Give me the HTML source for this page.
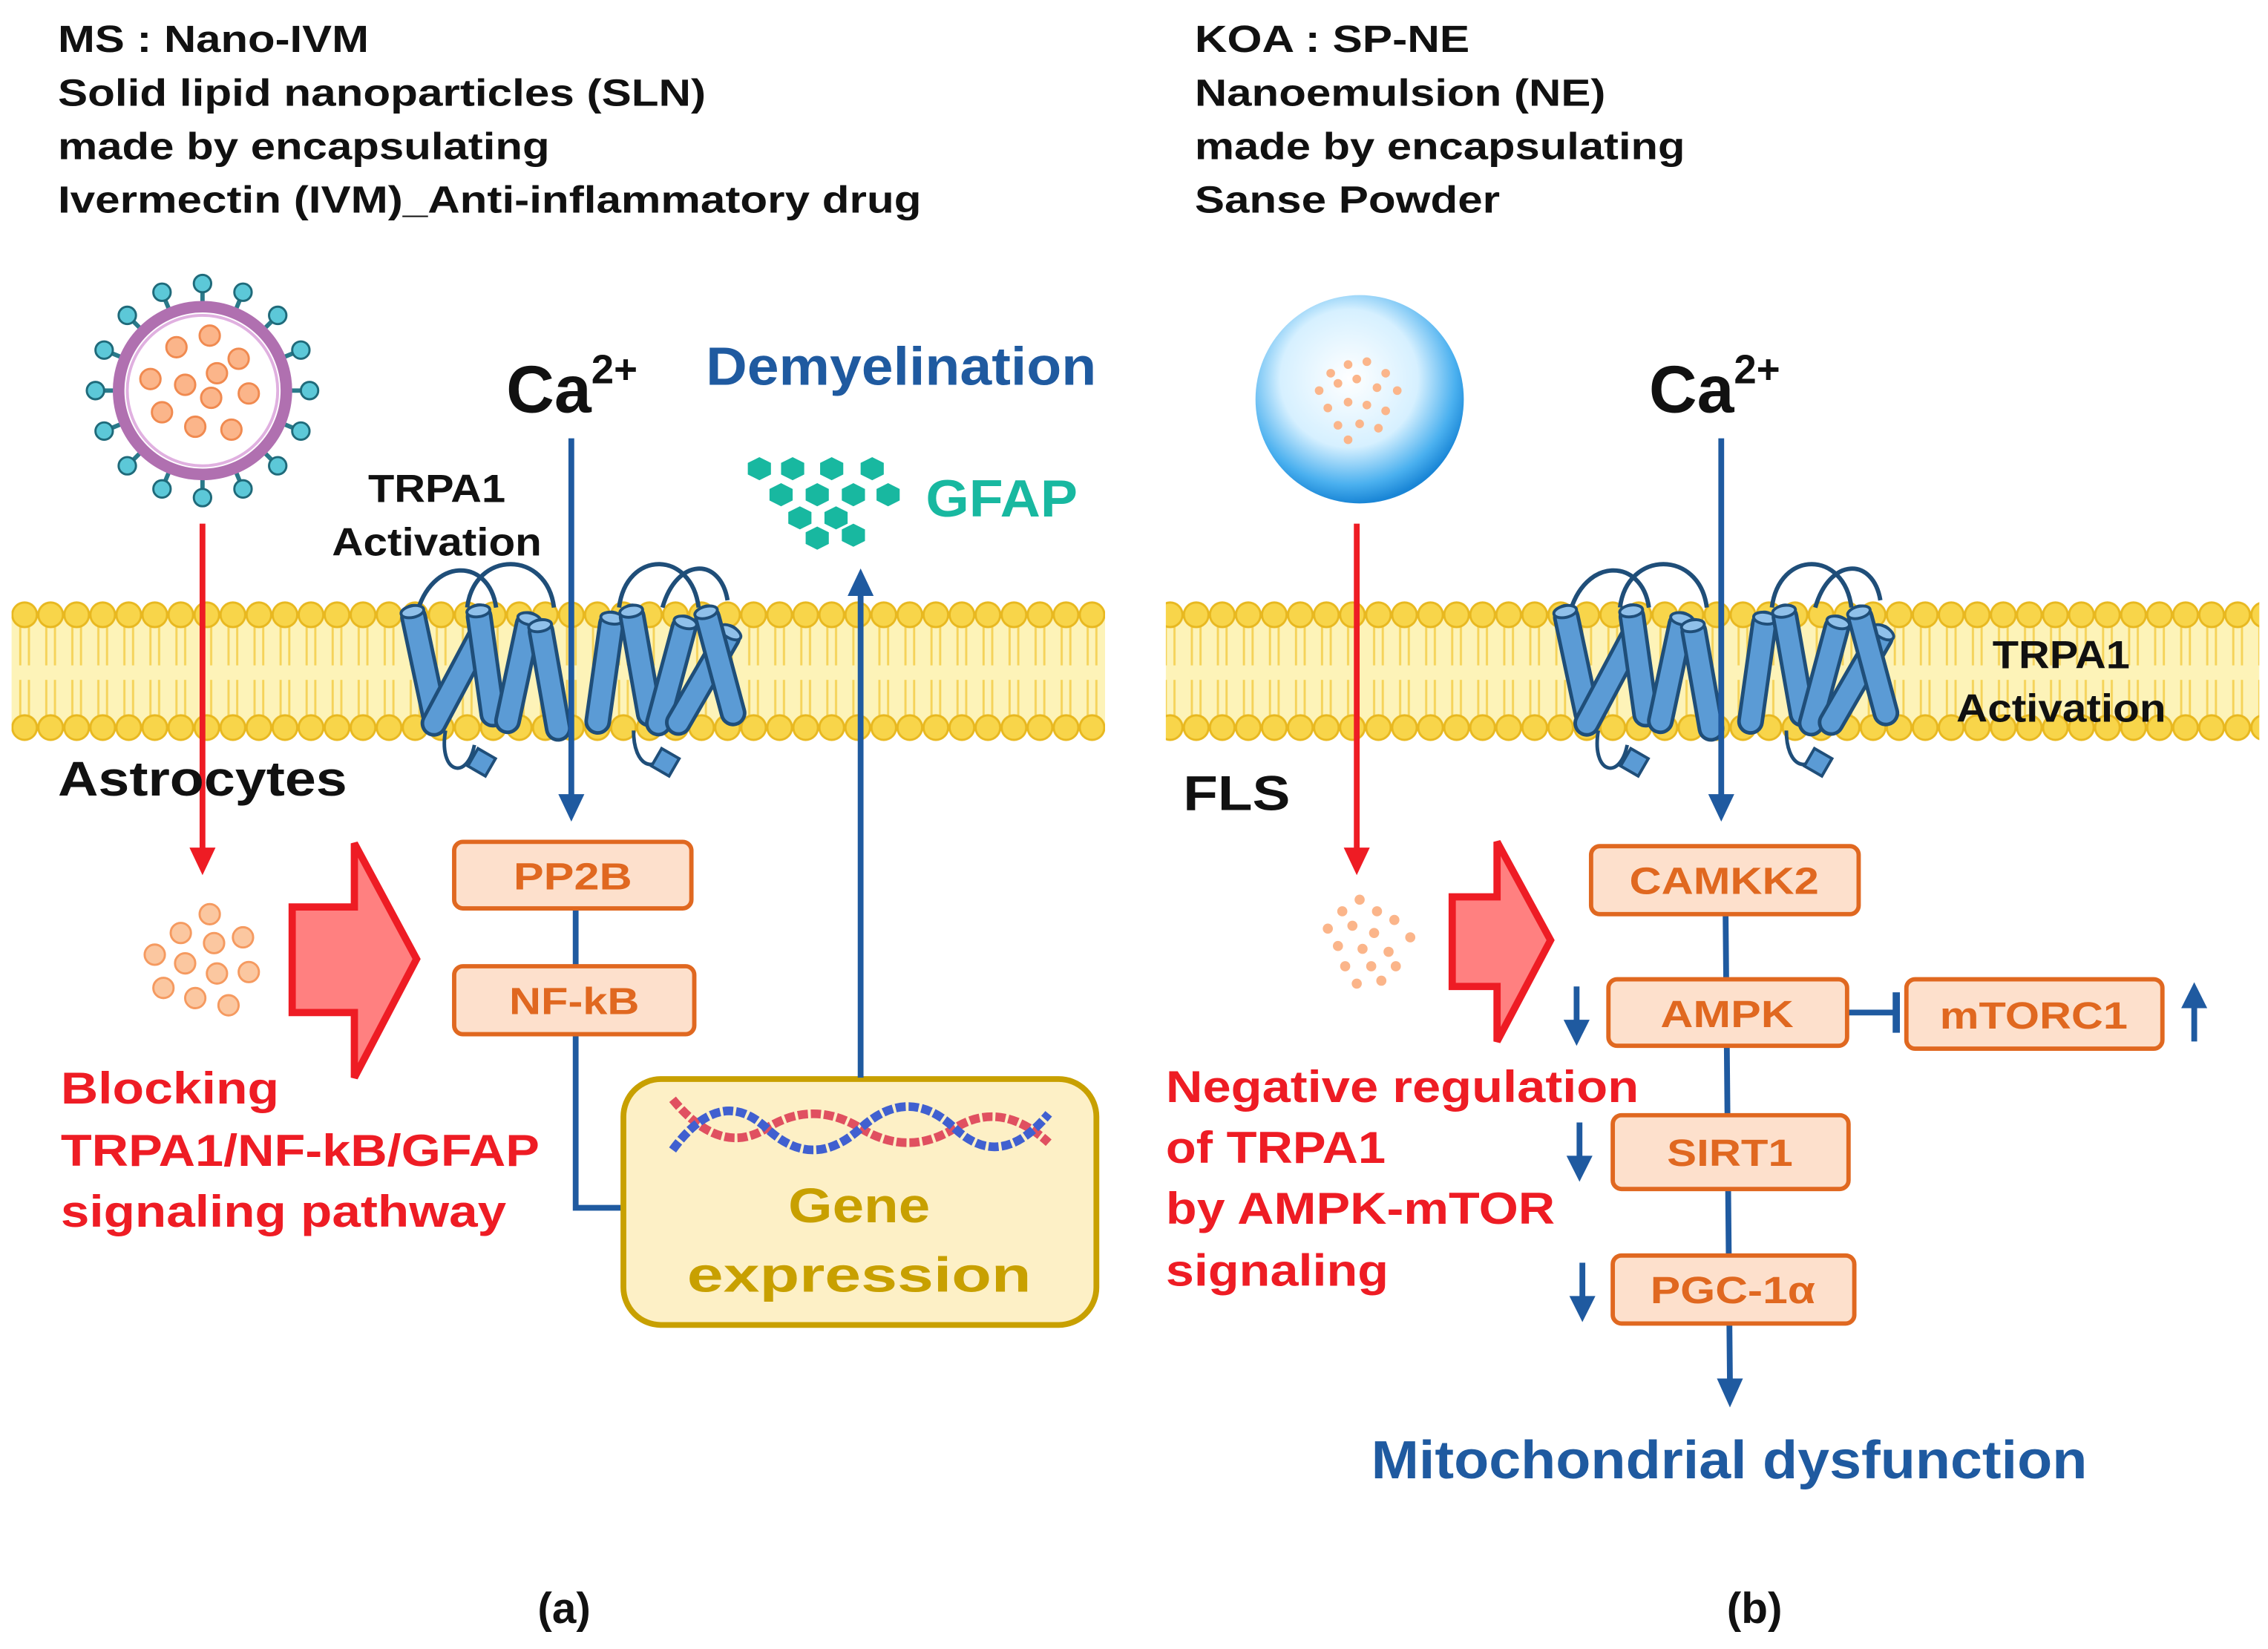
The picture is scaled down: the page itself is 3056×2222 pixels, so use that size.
<!DOCTYPE html>
<html><head><meta charset="utf-8"><style>
html,body{margin:0;padding:0;background:#fff}
svg{display:block}
text{font-family:"Liberation Sans",sans-serif;font-weight:bold}
</style></head><body>
<svg width="3056" height="2222" viewBox="0 0 1568 1140" xmlns="http://www.w3.org/2000/svg">
<defs>
<pattern id="lip" x="8" y="414" width="18" height="100" patternUnits="userSpaceOnUse">
<rect x="0" y="11" width="18" height="78" fill="#fdf3b8"/>
<line x1="6" y1="16" x2="6" y2="46" stroke="#f5d35a" stroke-width="1.5"/>
<line x1="12" y1="16" x2="12" y2="46" stroke="#f5d35a" stroke-width="1.5"/>
<line x1="6" y1="56" x2="6" y2="84" stroke="#f5d35a" stroke-width="1.5"/>
<line x1="12" y1="56" x2="12" y2="84" stroke="#f5d35a" stroke-width="1.5"/>
<circle cx="9" cy="11" r="8.5" fill="#f8d54a" stroke="#e8b820" stroke-width="1.5"/>
<circle cx="9" cy="89" r="8.5" fill="#f8d54a" stroke="#e8b820" stroke-width="1.5"/>
</pattern>
<radialGradient id="sph" cx="45%" cy="40%" r="60%">
<stop offset="0" stop-color="#ffffff"/><stop offset="0.55" stop-color="#d6f0ff"/><stop offset="0.85" stop-color="#4ab0ef"/><stop offset="1" stop-color="#1a86d6"/>
</radialGradient>
<g id="cyl">
<rect x="-8" y="-42" width="16" height="84" rx="8" fill="#5b9bd5" stroke="#1f4e79" stroke-width="2.5"/>
<ellipse cx="0" cy="-38" rx="8" ry="4" fill="#8fc0ea" stroke="#1f4e79" stroke-width="2"/>
</g>
<g id="prot">
<path d="M-110,-30 C-100,-70 -60,-70 -55,-35 M-75,-35 C-70,-75 -20,-75 -15,-35" fill="none" stroke="#1f4e79" stroke-width="3"/>
<use href="#cyl" transform="translate(-105,5) rotate(-12)"/>
<use href="#cyl" transform="translate(-82,15) rotate(28)"/>
<use href="#cyl" transform="translate(-62,5) rotate(-8)"/>
<use href="#cyl" transform="translate(-40,10) rotate(12)"/>
<use href="#cyl" transform="translate(-18,15) rotate(-10)"/>
<use href="#cyl" transform="translate(20,10) rotate(8)"/>
<use href="#cyl" transform="translate(45,5) rotate(-10)"/>
<use href="#cyl" transform="translate(66,12) rotate(15)"/>
<use href="#cyl" transform="translate(88,15) rotate(30)"/>
<use href="#cyl" transform="translate(100,5) rotate(-15)"/>
<path d="M30,-35 C35,-75 80,-75 85,-35 M60,-35 C70,-70 100,-70 105,-40" fill="none" stroke="#1f4e79" stroke-width="3"/>
<path d="M-90,50 C-95,80 -75,85 -70,60 M40,50 C40,75 55,80 60,65" fill="none" stroke="#1f4e79" stroke-width="2.5"/>
<rect x="-72" y="65" width="14" height="14" fill="#5b9bd5" stroke="#1f4e79" stroke-width="2" transform="rotate(30 -65 72)"/>
<rect x="55" y="65" width="14" height="14" fill="#5b9bd5" stroke="#1f4e79" stroke-width="2" transform="rotate(30 62 72)"/>
</g>
</defs>

<!-- headers -->
<g font-size="26" fill="#111" lengthAdjust="spacingAndGlyphs">
<text x="40" y="36" textLength="215" lengthAdjust="spacingAndGlyphs">MS : Nano-IVM</text>
<text x="40" y="73" textLength="448" lengthAdjust="spacingAndGlyphs">Solid lipid nanoparticles (SLN)</text>
<text x="40" y="110" textLength="340" lengthAdjust="spacingAndGlyphs">made by encapsulating</text>
<text x="40" y="147" textLength="597" lengthAdjust="spacingAndGlyphs">Ivermectin (IVM)_Anti-inflammatory drug</text>
<text x="826" y="36" textLength="190" lengthAdjust="spacingAndGlyphs">KOA : SP-NE</text>
<text x="826" y="73" textLength="284" lengthAdjust="spacingAndGlyphs">Nanoemulsion (NE)</text>
<text x="826" y="110" textLength="339" lengthAdjust="spacingAndGlyphs">made by encapsulating</text>
<text x="826" y="147" textLength="211" lengthAdjust="spacingAndGlyphs">Sanse Powder</text>
</g>

<!-- membranes -->
<rect x="8" y="414" width="756" height="100" fill="url(#lip)"/>
<rect x="806" y="414" width="756" height="100" fill="url(#lip)"/>

<use href="#prot" transform="translate(398,455)"/>
<use href="#prot" transform="translate(1195,455)"/>

<!-- LEFT -->
<g>
<g stroke="#2a7a8a" stroke-width="3">
<line x1="140" y1="270" x2="140" y2="196"/><line x1="140" y1="270" x2="140" y2="344"/>
<line x1="140" y1="270" x2="66" y2="270"/><line x1="140" y1="270" x2="214" y2="270"/>
<line x1="140" y1="270" x2="88" y2="218"/><line x1="140" y1="270" x2="192" y2="322"/>
<line x1="140" y1="270" x2="192" y2="218"/><line x1="140" y1="270" x2="88" y2="322"/>
<line x1="140" y1="270" x2="112" y2="202"/><line x1="140" y1="270" x2="168" y2="338"/>
<line x1="140" y1="270" x2="168" y2="202"/><line x1="140" y1="270" x2="112" y2="338"/>
<line x1="140" y1="270" x2="72" y2="242"/><line x1="140" y1="270" x2="208" y2="298"/>
<line x1="140" y1="270" x2="72" y2="298"/><line x1="140" y1="270" x2="208" y2="242"/>
</g>
<g fill="#5cc8d8" stroke="#1f6a7a" stroke-width="1.5">
<circle cx="140" cy="196" r="6"/><circle cx="140" cy="344" r="6"/><circle cx="66" cy="270" r="6"/><circle cx="214" cy="270" r="6"/>
<circle cx="88" cy="218" r="6"/><circle cx="192" cy="322" r="6"/><circle cx="192" cy="218" r="6"/><circle cx="88" cy="322" r="6"/>
<circle cx="112" cy="202" r="6"/><circle cx="168" cy="338" r="6"/><circle cx="168" cy="202" r="6"/><circle cx="112" cy="338" r="6"/>
<circle cx="72" cy="242" r="6"/><circle cx="208" cy="298" r="6"/><circle cx="72" cy="298" r="6"/><circle cx="208" cy="242" r="6"/>
</g>
<circle cx="140" cy="270" r="58" fill="#fff" stroke="#b070b0" stroke-width="8"/>
<circle cx="140" cy="270" r="52" fill="#fff" stroke="#e0b0e0" stroke-width="2"/>
<g fill="#fbb58a" stroke="#f08a50" stroke-width="1.5">
<circle cx="122" cy="240" r="7"/><circle cx="145" cy="232" r="7"/><circle cx="165" cy="248" r="7"/><circle cx="104" cy="262" r="7"/><circle cx="128" cy="266" r="7"/><circle cx="150" cy="258" r="7"/><circle cx="172" cy="272" r="7"/><circle cx="112" cy="285" r="7"/><circle cx="146" cy="275" r="7"/><circle cx="135" cy="295" r="7"/><circle cx="160" cy="297" r="7"/>
</g>
<line x1="140" y1="362" x2="140" y2="588" stroke="#ee1c24" stroke-width="4"/>
<polygon points="131,586 149,586 140,605" fill="#ee1c24"/>
<g fill="#fbc7a0" stroke="#f59a60" stroke-width="1.5">
<circle cx="145" cy="632" r="7"/><circle cx="125" cy="645" r="7"/><circle cx="148" cy="652" r="7"/><circle cx="168" cy="648" r="7"/><circle cx="107" cy="660" r="7"/><circle cx="128" cy="666" r="7"/><circle cx="150" cy="673" r="7"/><circle cx="172" cy="672" r="7"/><circle cx="113" cy="683" r="7"/><circle cx="135" cy="690" r="7"/><circle cx="158" cy="695" r="7"/>
</g>
<polygon points="202,627 245,627 245,583 288,663 245,745 245,700 202,700" fill="#ff8080" stroke="#ee1c24" stroke-width="5"/>
<text x="40" y="550" font-size="34" fill="#111" textLength="200" lengthAdjust="spacingAndGlyphs">Astrocytes</text>
<text x="302" y="347" font-size="27" fill="#111" text-anchor="middle" textLength="95" lengthAdjust="spacingAndGlyphs">TRPA1</text>
<text x="302" y="384" font-size="27" fill="#111" text-anchor="middle" textLength="145" lengthAdjust="spacingAndGlyphs">Activation</text>
<text x="350" y="285" font-size="46" fill="#111">Ca<tspan font-size="28" dy="-20">2+</tspan></text>
<line x1="395" y1="303" x2="395" y2="550" stroke="#1f5aa0" stroke-width="4"/>
<polygon points="386,549 404,549 395,568" fill="#1f5aa0"/>
<polyline points="398,628 398,835 432,835" fill="none" stroke="#1f5aa0" stroke-width="4"/>
<rect x="314" y="582" width="164" height="46" rx="6" fill="#fde0cc" stroke="#e06820" stroke-width="3"/>
<text x="396" y="615" font-size="26" fill="#e06820" text-anchor="middle" textLength="82" lengthAdjust="spacingAndGlyphs">PP2B</text>
<rect x="314" y="668" width="166" height="47" rx="6" fill="#fde0cc" stroke="#e06820" stroke-width="3"/>
<text x="397" y="701" font-size="26" fill="#e06820" text-anchor="middle" textLength="90" lengthAdjust="spacingAndGlyphs">NF-kB</text>
<rect x="431" y="746" width="327" height="170" rx="26" fill="#fdf0c6" stroke="#c8a000" stroke-width="4"/>
<path d="M465,760 Q498,800 530,780 T595,780 T660,780 T725,790" fill="none" stroke="#e05060" stroke-width="6" stroke-dasharray="7 2"/>
<path d="M465,795 Q498,750 530,780 T595,780 T660,780 T725,770" fill="none" stroke="#4060d0" stroke-width="6" stroke-dasharray="7 2"/>
<text x="594" y="845" font-size="34" fill="#c8a000" text-anchor="middle" textLength="98" lengthAdjust="spacingAndGlyphs">Gene</text>
<text x="594" y="893" font-size="34" fill="#c8a000" text-anchor="middle" textLength="238" lengthAdjust="spacingAndGlyphs">expression</text>
<line x1="595" y1="745" x2="595" y2="410" stroke="#1f5aa0" stroke-width="4"/>
<polygon points="586,412 604,412 595,393" fill="#1f5aa0"/>
<text x="488" y="266" font-size="37" fill="#1f5aa0" textLength="270" lengthAdjust="spacingAndGlyphs">Demyelination</text>
<g fill="#18b8a0">
<polygon points="525,316 533,320 533,328 525,332 517,328 517,320"/>
<polygon points="548,316 556,320 556,328 548,332 540,328 540,320"/>
<polygon points="575,316 583,320 583,328 575,332 567,328 567,320"/>
<polygon points="603,316 611,320 611,328 603,332 595,328 595,320"/>
<polygon points="540,334 548,338 548,346 540,350 532,346 532,338"/>
<polygon points="565,334 573,338 573,346 565,350 557,346 557,338"/>
<polygon points="590,334 598,338 598,346 590,350 582,346 582,338"/>
<polygon points="614,334 622,338 622,346 614,350 606,346 606,338"/>
<polygon points="553,350 561,354 561,362 553,366 545,362 545,354"/>
<polygon points="578,350 586,354 586,362 578,366 570,362 570,354"/>
<polygon points="565,364 573,368 573,376 565,380 557,376 557,368"/>
<polygon points="590,362 598,366 598,374 590,378 582,374 582,366"/>
</g>
<text x="640" y="357" font-size="36" fill="#18b8a0" textLength="105" lengthAdjust="spacingAndGlyphs">GFAP</text>
<g font-size="31" fill="#ee1c24">
<text x="42" y="763" textLength="151" lengthAdjust="spacingAndGlyphs">Blocking</text>
<text x="42" y="806" textLength="331" lengthAdjust="spacingAndGlyphs">TRPA1/NF-kB/GFAP</text>
<text x="42" y="848" textLength="308" lengthAdjust="spacingAndGlyphs">signaling pathway</text>
</g>
<text x="390" y="1122" font-size="30" fill="#111" text-anchor="middle">(a)</text>
</g>

<!-- RIGHT -->
<g>
<circle cx="940" cy="276" r="72" fill="url(#sph)"/>
<g fill="#fbb58a">
<circle cx="920" cy="258" r="3"/><circle cx="932" cy="252" r="3"/><circle cx="945" cy="250" r="3"/><circle cx="958" cy="258" r="3"/><circle cx="912" cy="270" r="3"/><circle cx="925" cy="265" r="3"/><circle cx="938" cy="262" r="3"/><circle cx="952" cy="268" r="3"/><circle cx="966" cy="270" r="3"/><circle cx="918" cy="282" r="3"/><circle cx="932" cy="278" r="3"/><circle cx="945" cy="280" r="3"/><circle cx="958" cy="284" r="3"/><circle cx="925" cy="294" r="3"/><circle cx="940" cy="293" r="3"/><circle cx="953" cy="296" r="3"/><circle cx="932" cy="304" r="3"/>
</g>
<line x1="938" y1="362" x2="938" y2="588" stroke="#ee1c24" stroke-width="4"/>
<polygon points="929,586 947,586 938,605" fill="#ee1c24"/>
<g fill="#fbb58a">
<circle cx="940" cy="622" r="3.5"/><circle cx="928" cy="630" r="3.5"/><circle cx="952" cy="630" r="3.5"/><circle cx="964" cy="636" r="3.5"/><circle cx="918" cy="642" r="3.5"/><circle cx="935" cy="640" r="3.5"/><circle cx="950" cy="645" r="3.5"/><circle cx="975" cy="648" r="3.5"/><circle cx="925" cy="654" r="3.5"/><circle cx="942" cy="656" r="3.5"/><circle cx="960" cy="658" r="3.5"/><circle cx="930" cy="668" r="3.5"/><circle cx="948" cy="668" r="3.5"/><circle cx="965" cy="668" r="3.5"/><circle cx="938" cy="680" r="3.5"/><circle cx="955" cy="678" r="3.5"/>
</g>
<polygon points="1004,620 1035,620 1035,582 1072,650 1035,720 1035,682 1004,682" fill="#ff8080" stroke="#ee1c24" stroke-width="5"/>
<text x="818" y="560" font-size="34" fill="#111" textLength="74" lengthAdjust="spacingAndGlyphs">FLS</text>
<text x="1425" y="462" font-size="27" fill="#111" text-anchor="middle" textLength="95" lengthAdjust="spacingAndGlyphs">TRPA1</text>
<text x="1425" y="499" font-size="27" fill="#111" text-anchor="middle" textLength="145" lengthAdjust="spacingAndGlyphs">Activation</text>
<text x="1140" y="285" font-size="46" fill="#111">Ca<tspan font-size="28" dy="-20">2+</tspan></text>
<line x1="1190" y1="303" x2="1190" y2="550" stroke="#1f5aa0" stroke-width="4"/>
<polygon points="1181,549 1199,549 1190,568" fill="#1f5aa0"/>
<line x1="1193" y1="632" x2="1196" y2="955" stroke="#1f5aa0" stroke-width="4"/>
<polygon points="1187,953 1205,953 1196,973" fill="#1f5aa0"/>
<line x1="1277" y1="700" x2="1310" y2="700" stroke="#1f5aa0" stroke-width="4"/>
<line x1="1311" y1="686" x2="1311" y2="714" stroke="#1f5aa0" stroke-width="5"/>
<rect x="1100" y="585" width="185" height="47" rx="6" fill="#fde0cc" stroke="#e06820" stroke-width="3"/>
<text x="1192" y="618" font-size="26" fill="#e06820" text-anchor="middle" textLength="131" lengthAdjust="spacingAndGlyphs">CAMKK2</text>
<rect x="1112" y="677" width="165" height="46" rx="6" fill="#fde0cc" stroke="#e06820" stroke-width="3"/>
<text x="1194" y="710" font-size="26" fill="#e06820" text-anchor="middle" textLength="92" lengthAdjust="spacingAndGlyphs">AMPK</text>
<rect x="1318" y="677" width="177" height="48" rx="6" fill="#fde0cc" stroke="#e06820" stroke-width="3"/>
<text x="1406" y="711" font-size="26" fill="#e06820" text-anchor="middle" textLength="130" lengthAdjust="spacingAndGlyphs">mTORC1</text>
<rect x="1115" y="771" width="163" height="51" rx="6" fill="#fde0cc" stroke="#e06820" stroke-width="3"/>
<text x="1196" y="806" font-size="26" fill="#e06820" text-anchor="middle" textLength="87" lengthAdjust="spacingAndGlyphs">SIRT1</text>
<rect x="1115" y="868" width="167" height="47" rx="6" fill="#fde0cc" stroke="#e06820" stroke-width="3"/>
<text x="1198" y="901" font-size="26" fill="#e06820" text-anchor="middle" textLength="114" lengthAdjust="spacingAndGlyphs">PGC-1α</text>
<g stroke="#1f5aa0" stroke-width="4">
<line x1="1090" y1="682" x2="1090" y2="708"/><line x1="1092" y1="776" x2="1092" y2="802"/><line x1="1094" y1="873" x2="1094" y2="899"/><line x1="1517" y1="720" x2="1517" y2="694"/>
</g>
<g fill="#1f5aa0">
<polygon points="1081,705 1099,705 1090,723"/><polygon points="1083,799 1101,799 1092,817"/><polygon points="1085,896 1103,896 1094,914"/><polygon points="1508,697 1526,697 1517,679"/>
</g>
<text x="948" y="1022" font-size="37" fill="#1f5aa0" textLength="495" lengthAdjust="spacingAndGlyphs">Mitochondrial dysfunction</text>
<g font-size="31" fill="#ee1c24">
<text x="806" y="762" textLength="327" lengthAdjust="spacingAndGlyphs">Negative regulation</text>
<text x="806" y="804" textLength="152" lengthAdjust="spacingAndGlyphs">of TRPA1</text>
<text x="806" y="846" textLength="269" lengthAdjust="spacingAndGlyphs">by AMPK-mTOR</text>
<text x="806" y="889" textLength="154" lengthAdjust="spacingAndGlyphs">signaling</text>
</g>
<text x="1213" y="1122" font-size="30" fill="#111" text-anchor="middle">(b)</text>
</g>
</svg>
</body></html>
